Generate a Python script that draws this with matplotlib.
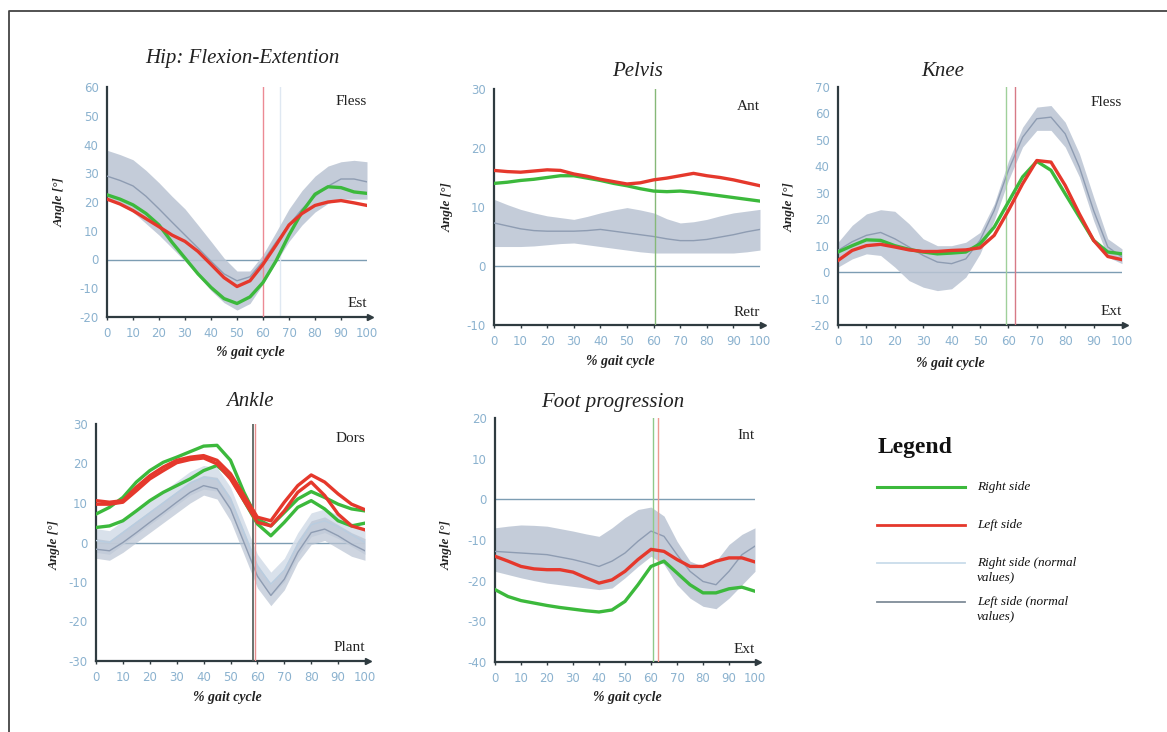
""" Gait analysis kinematics: hip, pelvis, knee, ankle and foot progression """

import numpy as np
import matplotlib
matplotlib.use('Agg')
import matplotlib.pyplot as plt
from matplotlib.lines import Line2D

plt.rcParams['axes.unicode_minus'] = False

# % gait cycle, one sample every 5 %
GAIT = np.arange(0, 101, 5)
X_TICKS = np.arange(0, 101, 10)

# Hip flexion-extension
HIP_RIGHT = [22.5, 21, 19, 16, 12, 6, 0.5, -5, -9.7, -13.6, -15.3, -13, -8, -0.5, 8.5, 16.5, 22.7, 25.3, 25, 23.5, 23]
HIP_LEFT = [21, 19.3, 17, 14.2, 11.4, 8.5, 6.3, 2.8, -1.7, -6.3, -9.4, -7.4, -1.7, 5, 12, 16, 18.8, 20, 20.5, 19.7, 18.8]
HIP_NORM = [29, 27.5, 25.6, 22, 17.6, 13, 8.5, 4, -0.6, -5, -7.4, -6, -0.6, 6, 12, 17.5, 22, 25.5, 28, 28, 27]
HIP_NORM_UP = [38, 36.5, 34.7, 31, 26.7, 22, 17.6, 12, 6.3, 0.5, -4, -4, 1.7, 9.5, 17.6, 24, 29, 32.5, 34, 34.5, 34]
HIP_NORM_LO = [21, 19, 16.5, 12.5, 8.5, 4, -0.6, -5.5, -10.8, -15, -17.6, -15.3, -8.5, -1, 6.3, 12, 16.5, 19.5, 21, 21, 21]

# Pelvis tilt
PELVIS_RIGHT = [14, 14.2, 14.5, 14.7, 15, 15.3, 15.3, 14.9, 14.5, 14, 13.6, 13.1, 12.7, 12.6, 12.7, 12.5, 12.2, 11.9, 11.6, 11.3, 11]
PELVIS_LEFT = [16.2, 16, 15.9, 16.1, 16.3, 16.2, 15.6, 15.2, 14.7, 14.3, 13.9, 14.1, 14.6, 14.9, 15.3, 15.7, 15.3, 15, 14.6, 14.1, 13.6]
PELVIS_NORM = [7.3, 6.8, 6.3, 6, 5.9, 5.9, 5.9, 6, 6.2, 5.9, 5.6, 5.3, 5, 4.6, 4.3, 4.3, 4.5, 4.9, 5.3, 5.8, 6.2]
PELVIS_NORM_UP = [11.3, 10.4, 9.6, 9, 8.5, 8.2, 7.9, 8.4, 9, 9.5, 9.9, 9.5, 9, 8, 7.3, 7.5, 7.9, 8.5, 9, 9.3, 9.6]
PELVIS_NORM_LO = [3.3, 3.3, 3.3, 3.4, 3.6, 3.8, 3.9, 3.6, 3.3, 3, 2.7, 2.4, 2.2, 2.2, 2.2, 2.2, 2.2, 2.2, 2.2, 2.4, 2.7]

# Knee flexion-extension
KNEE_RIGHT = [7.6, 10, 12.2, 12, 10, 8.6, 7.6, 6.9, 7.2, 7.6, 10.7, 17, 26.5, 36, 41.9, 38.5, 29.6, 20.8, 12, 7.6, 6.9]
KNEE_LEFT = [4.4, 8.2, 10, 10.5, 9.5, 8.4, 7.8, 7.8, 8.2, 8.4, 9.2, 13.9, 23.3, 33.4, 42.2, 41.6, 32.8, 22, 12, 5.9, 4.7]
KNEE_NORM = [8.2, 11.5, 13.9, 15, 12.6, 9.5, 6.3, 3.8, 3.2, 5, 12, 23.3, 38.5, 51, 58, 58.6, 52.3, 39.7, 23.3, 9.5, 5.7]
KNEE_NORM_UP = [11.3, 17.7, 22, 23.6, 23, 18.3, 12.6, 10, 10, 11.3, 15, 25.8, 42, 54.8, 62.4, 63, 56.7, 44.8, 28.4, 12.6, 8.8]
KNEE_NORM_LO = [1.9, 5, 6.9, 6.3, 1.9, -3.2, -5.7, -7, -6.3, -1.9, 6.9, 19.5, 34.7, 47.3, 53.6, 53.6, 47.3, 36, 19.5, 5.7, 3.2]

# Ankle dorsi/plantar flexion (two trials each side)
ANKLE_RIGHT_1 = [7.2, 8.9, 11.4, 15.3, 18.2, 20.3, 21.6, 23, 24.4, 24.6, 20.8, 12.7, 5.9, 4.2, 7.6, 11, 12.9, 11.4, 9.7, 8.5, 8]
ANKLE_RIGHT_2 = [3.8, 4.2, 5.5, 8, 10.6, 12.7, 14.4, 16.1, 18.2, 19.5, 16.5, 10.6, 4.7, 1.7, 5.1, 8.9, 10.6, 8.5, 5.5, 4.2, 4.9]
ANKLE_LEFT_1 = [10.6, 10.2, 10.6, 14, 16.9, 19.1, 20.8, 21.6, 22, 20.8, 17.4, 11.9, 6.4, 5.5, 10.2, 14.4, 17.1, 15.3, 12.3, 9.7, 8.3]
ANKLE_LEFT_2 = [9.7, 9.7, 10.2, 13.1, 16.1, 18.2, 20.2, 21, 21.4, 19.9, 16.1, 10.6, 5.1, 4.2, 8, 12.7, 15.3, 11.9, 7.2, 4.2, 3.2]
ANKLE_NORM = [-1.7, -2.1, 0, 2.5, 5.1, 7.6, 10.2, 12.7, 14.4, 13.6, 8.5, 0, -8.5, -13.4, -9.3, -2.5, 2.5, 3.4, 1.7, -0.4, -2.1]
ANKLE_NORM_UP = [1, 0.5, 3, 5.5, 8, 10.5, 13, 15.5, 17, 16.5, 11.5, 3, -5.5, -10.5, -6.5, 0.5, 5.5, 6.5, 4.5, 2.5, 1]
ANKLE_NORM_LO = [-4, -4.5, -2.5, 0, 2.5, 5, 7.5, 10, 12, 11, 5.5, -3, -11.5, -16, -12, -5, -0.5, 0.5, -1.5, -3.5, -4.5]
ANKLE_NORM_R = [0.5, 0, 2.5, 5, 7.5, 10, 12.5, 15, 16.5, 16, 11, 2.5, -6, -10.5, -7, -0.5, 4.5, 5.5, 4, 2, 0]
ANKLE_NORM_R_UP = [3.5, 3, 5.5, 8, 10.5, 13, 15.5, 18, 19.5, 19, 14, 5.5, -3, -7.5, -4, 2.5, 7.5, 8.5, 7, 5, 3]
ANKLE_NORM_R_LO = [-2.5, -3, -0.5, 2, 4.5, 7, 9.5, 12, 13.5, 13, 8, -0.5, -9, -13.5, -10, -3.5, 1.5, 2.5, 1, -1, -3]

# Foot progression
FOOT_RIGHT = [-22.2, -23.9, -24.9, -25.5, -26.1, -26.6, -27, -27.4, -27.7, -27.2, -25.1, -21, -16.5, -15.2, -18.1, -21, -23, -23, -22, -21.6, -22.6]
FOOT_LEFT = [-14, -15.2, -16.5, -17.1, -17.3, -17.3, -17.9, -19.3, -20.6, -19.8, -17.7, -14.8, -12.3, -12.8, -14.8, -16.5, -16.5, -15.2, -14.4, -14.4, -15.4]
FOOT_NORM = [-12.8, -13, -13.2, -13.4, -13.6, -14.2, -14.8, -15.6, -16.5, -15.2, -13.2, -10.3, -7.8, -9.1, -13.6, -17.7, -20.2, -21, -17.7, -13.6, -11.5]
FOOT_NORM_UP = [-7, -6.6, -6.3, -6.4, -6.6, -7.2, -7.8, -8.5, -9.1, -7, -4.5, -2.5, -1.9, -4.1, -10.3, -15.2, -16.5, -15.2, -11.1, -8.6, -7]
FOOT_NORM_LO = [-17.7, -18.5, -19.3, -20, -20.6, -21, -21.4, -21.8, -22.2, -21.8, -19.3, -16.5, -14, -16, -21, -24.3, -26.3, -26.9, -24.3, -21, -17.7]

LEGEND_LABELS = ['Right side', 'Left side', 'Right side (normal\nvalues)', 'Left side (normal\nvalues)']

# Colours
GREEN = '#3cb93c'
RED = '#e5382c'
BAND = '#bac4d3'
BAND_LIGHT = '#d5dee9'
MEAN_LINE = '#8e9cb2'
MEAN_LIGHT = '#b9cde0'
TICK_COLOR = '#8bb2cf'
AXIS_COLOR = '#2f3b40'
ZERO_COLOR = '#7d9db3'
SERIF = ['Liberation Serif', 'DejaVu Serif']

W, H = 1167, 732


def px_axes(fig, left, top, right, bottom):
    """ Axes placed by pixel box of the reference picture """
    return fig.add_axes([left / W, 1 - bottom / H, (right - left) / W, (bottom - top) / H])


def setup_axes(ax, ylim, top_label, bottom_label, top_frac, bottom_frac):
    """ Common look of every panel """
    ax.set_xlim(0, 100)
    ax.set_ylim(*ylim)
    ax.set_xticks(X_TICKS)
    ax.set_yticks(np.arange(ylim[0], ylim[1] + 1, 10))
    for side in ['top', 'right']:
        ax.spines[side].set_visible(False)
    for side in ['left', 'bottom']:
        ax.spines[side].set_color(AXIS_COLOR)
        ax.spines[side].set_linewidth(1.6)
    ax.tick_params(axis='x', colors=AXIS_COLOR, labelcolor=TICK_COLOR, length=2.5, width=1, pad=5, labelsize=8.5)
    ax.tick_params(axis='y', length=0, pad=6, labelcolor=TICK_COLOR, labelsize=8.5)
    ax.plot(1.012, 0, '>', transform=ax.transAxes, clip_on=False, color=AXIS_COLOR, ms=4)
    ax.axhline(0, color=ZERO_COLOR, lw=1, zorder=1)
    ax.text(1.0, top_frac, top_label, transform=ax.transAxes, ha='right', va='center',
            fontsize=11, family=SERIF, color='#222222')
    ax.text(1.0, bottom_frac, bottom_label, transform=ax.transAxes, ha='right', va='center',
            fontsize=11, family=SERIF, color='#222222')


def draw_norm(ax, mean, up, lo, band=BAND, line=MEAN_LINE, alpha=0.85):
    """ Normal values band and mean """
    ax.fill_between(GAIT, lo, up, color=band, alpha=alpha, lw=0, zorder=2)
    ax.plot(GAIT, mean, color=line, lw=1, zorder=3)


def draw_side(ax, values, color):
    ax.plot(GAIT, values, color=color, lw=2.4, solid_joinstyle='round', zorder=5)


def labels(fig, title, title_xy, ylabel_xy, xlabel_xy):
    fig.text(title_xy[0] / W, 1 - title_xy[1] / H, title, ha='center', va='center',
             fontsize=15, style='italic', family=SERIF, color='#222222')
    fig.text(ylabel_xy[0] / W, 1 - ylabel_xy[1] / H, 'Angle [°]', ha='center', va='center',
             rotation=90, fontsize=9.5, style='italic', weight='bold', family=SERIF, color='#222222')
    fig.text(xlabel_xy[0] / W, 1 - xlabel_xy[1] / H, '% gait cycle', ha='center', va='center',
             fontsize=10, style='italic', weight='bold', family=SERIF, color='#222222')


fig = plt.figure(figsize=(11.67, 7.32), dpi=100)

# outer frame (top and left edges)
fig.add_artist(Line2D([9 / W, 9 / W, 1], [0, 1 - 11 / H, 1 - 11 / H], color='#444444', lw=1.3))

# Hip
ax = px_axes(fig, 107, 87, 367, 317)
setup_axes(ax, (-20, 60), 'Fless', 'Est', 0.935, 0.06)
draw_norm(ax, HIP_NORM, HIP_NORM_UP, HIP_NORM_LO)
ax.axvline(60, color='#ec8a94', lw=1, zorder=4)
ax.axvline(66.5, color='#dfe8f2', lw=1, zorder=1)
draw_side(ax, HIP_RIGHT, GREEN)
draw_side(ax, HIP_LEFT, RED)
labels(fig, 'Hip: Flexion-Extention', (242, 59), (60, 202), (250, 353))

# Pelvis
ax = px_axes(fig, 494, 89, 760, 325)
setup_axes(ax, (-10, 30), 'Ant', 'Retr', 0.924, 0.055)
draw_norm(ax, PELVIS_NORM, PELVIS_NORM_UP, PELVIS_NORM_LO)
ax.axvline(60.5, color='#86b878', lw=1, zorder=4)
draw_side(ax, PELVIS_RIGHT, GREEN)
draw_side(ax, PELVIS_LEFT, RED)
labels(fig, 'Pelvis', (638, 71), (448, 207), (620, 362))

# Knee
ax = px_axes(fig, 838, 87, 1122, 325)
setup_axes(ax, (-20, 70), 'Fless', 'Ext', 0.933, 0.055)
draw_norm(ax, KNEE_NORM, KNEE_NORM_UP, KNEE_NORM_LO)
ax.axvline(59, color='#9fd09a', lw=1, zorder=4)
ax.axvline(62.4, color='#d77a86', lw=1, zorder=4)
draw_side(ax, KNEE_RIGHT, GREEN)
draw_side(ax, KNEE_LEFT, RED)
labels(fig, 'Knee', (943, 71), (790, 207), (950, 363))

# Ankle
ax = px_axes(fig, 96, 424, 365, 661)
setup_axes(ax, (-30, 30), 'Dors', 'Plant', 0.94, 0.055)
draw_norm(ax, ANKLE_NORM_R, ANKLE_NORM_R_UP, ANKLE_NORM_R_LO, band=BAND_LIGHT, line=MEAN_LIGHT, alpha=0.9)
draw_norm(ax, ANKLE_NORM, ANKLE_NORM_UP, ANKLE_NORM_LO, alpha=0.7)
ax.axvline(58.2, color='#4f5a55', lw=1.2, zorder=4)
ax.axvline(59.2, color='#e88f8f', lw=1, zorder=4)
draw_side(ax, ANKLE_RIGHT_1, GREEN)
draw_side(ax, ANKLE_RIGHT_2, GREEN)
draw_side(ax, ANKLE_LEFT_1, RED)
draw_side(ax, ANKLE_LEFT_2, RED)
labels(fig, 'Ankle', (250, 401), (55, 545), (227, 697))

# Foot progression
ax = px_axes(fig, 495, 418, 755, 662)
setup_axes(ax, (-40, 20), 'Int', 'Ext', 0.93, 0.05)
draw_norm(ax, FOOT_NORM, FOOT_NORM_UP, FOOT_NORM_LO)
ax.axvline(60.8, color='#8fc98a', lw=1, zorder=4)
ax.axvline(62.6, color='#ee9a8f', lw=1, zorder=4)
draw_side(ax, FOOT_RIGHT, GREEN)
draw_side(ax, FOOT_LEFT, RED)
labels(fig, 'Foot progression', (613, 403), (447, 545), (627, 697))

# Legend drawn by hand, like in the original
fig.text(878 / W, 1 - 448 / H, 'Legend', ha='left', va='center', fontsize=17,
         weight='bold', family=SERIF, color='#111111')
legend_styles = [(GREEN, 2.2), (RED, 2.0), ('#c9dcea', 1.3), ('#7f8c99', 1.3)]
legend_rows = [487, 525, 563, 602]
for (color, lw), label, y in zip(legend_styles, LEGEND_LABELS, legend_rows):
    fig.add_artist(Line2D([877 / W, 965 / W], [1 - y / H, 1 - y / H], color=color, lw=lw))
    fig.text(977 / W, 1 - (y - 6) / H, label, ha='left', va='top', fontsize=9.5,
             style='italic', family=SERIF, color='#111111', linespacing=1.25)

plt.savefig('out.png', dpi=100)
